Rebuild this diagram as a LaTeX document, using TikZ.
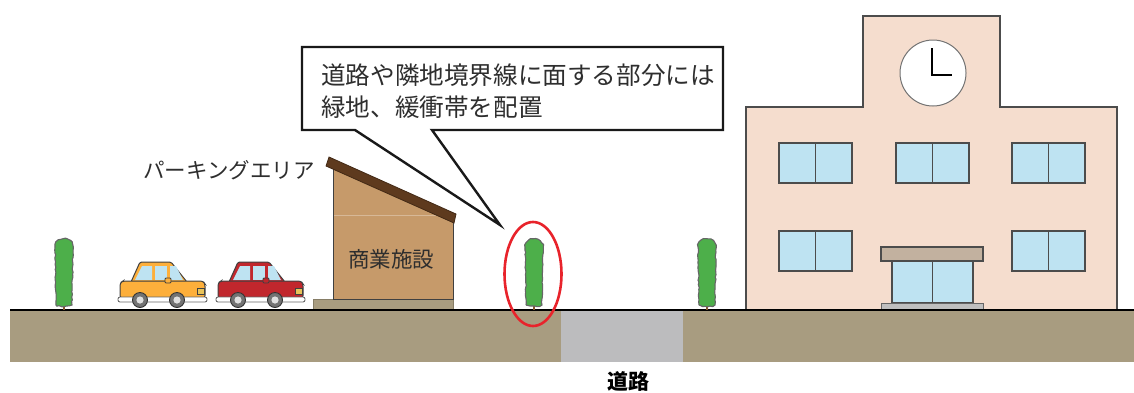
\documentclass[tikz,border=0pt]{standalone}
\usepackage{fontspec}
\newfontfamily\jp{Noto Sans CJK JP}
\usetikzlibrary{decorations.pathmorphing}

\definecolor{soil}{HTML}{A89C80}
\definecolor{roadgray}{HTML}{BCBCBE}
\definecolor{leaf}{HTML}{4DAF4A}
\definecolor{shopwall}{HTML}{C69A6A}
\definecolor{shoproof}{HTML}{5E3A1E}
\definecolor{schoolwall}{HTML}{F5DDCE}
\definecolor{glass}{HTML}{BEE3F2}
\definecolor{canopy}{HTML}{C2B19F}
\definecolor{carorange}{HTML}{FDAF3B}
\definecolor{carred}{HTML}{C1272D}
\definecolor{lamp}{HTML}{E8C35A}
\definecolor{ringred}{HTML}{E8232B}

\tikzset{
  outline/.style={draw=black!70, line width=1.1pt},
  windowpane/.style={fill=glass, draw=black!70, line width=1.1pt},
  label/.style={font=\jp, text=black!82, inner sep=0pt},
  pics/tree/.style={code={
    \draw[brown!70!black, line width=1.2pt] (0,-3) -- (0,3);
    \pgfmathsetseed{#1}
    \draw[fill=leaf, draw=black!60, line width=1.1pt,
          decorate, decoration={random steps, segment length=2.5pt, amplitude=0.6pt}]
      (-8,-2) -- (-9,-60) .. controls (-9,-71) and (9,-71) .. (9,-60) -- (8,-2)
      .. controls (4,0) and (-4,0) .. (-8,-2) -- cycle;
  }},
  pics/car/.style={code={
    % cabin
    \draw[fill=#1, draw=black!75, line width=1pt, rounded corners=1.5pt]
      (16,27) -- (25,7) -- (56,7) -- (72,27) -- cycle;
    \fill[glass] (20,25) -- (27,11) -- (37,11) -- (37,25) -- cycle;
    \fill[glass] (40,11) -- (52,11) -- (52,25) -- (40,25) -- cycle;
    \fill[glass] (55,11) -- (61,11) -- (68,25) -- (55,25) -- cycle;
    % lower body
    \draw[fill=#1, draw=black!75, line width=1pt, rounded corners=2.5pt]
      (5,43) -- (5,28) -- (8,26) -- (88,26) -- (90,29) -- (90,43) -- cycle;
    \draw[fill=#1, draw=black!75, line width=0.8pt, rounded corners=1pt]
      (50,23) rectangle (56,28);
    \draw[fill=lamp, draw=black!75, line width=0.8pt] (82,33) rectangle (89,39);
    % bumper
    \draw[fill=white, draw=black!60, line width=0.9pt, rounded corners=2pt]
      (3,42) rectangle (92,47);
    % wheels
    \foreach \wx in {25,62}{
      \draw[fill=black!55, draw=black!80, line width=0.9pt] (\wx,45) circle (7.5);
      \fill[black!12] (\wx,45) circle (3.6);
    }
  }},
  pics/pane/.style={code={
    \draw[windowpane] (0,0) rectangle (73,40);
    \draw[black!70, line width=1.1pt] (36.5,0) -- (36.5,40);
  }}
}

\begin{document}
\begin{tikzpicture}[x=1pt, y=-1pt]
\useasboundingbox (0,0) rectangle (1134,392);

% ---- school building ----
\draw[fill=schoolwall, draw=black!70, line width=1.1pt]
  (746,310) -- (746,107) -- (863,107) -- (863,16) -- (1000,16)
  -- (1000,107) -- (1117,107) -- (1117,310);
\draw[fill=white, draw=black!55, line width=1pt] (933,73) circle (33);
\draw[black, line width=2.4pt] (932,48) -- (932,75) -- (952,75);
\foreach \wx/\wy in {779/143, 896/143, 1012/143, 779/231, 1012/231}
  \pic at (\wx,\wy) {pane};
\draw[fill=canopy, draw=black!70, line width=1.1pt] (881,247) rectangle (983,261);
\draw[windowpane] (892,261) rectangle (973,303);
\draw[black!70, line width=1.1pt] (932.5,261) -- (932.5,303);
\draw[fill=black!25, draw=black!60, line width=1pt] (881,303) rectangle (983,310);

% ---- shop ----
\draw[fill=soil, draw=soil!80!black, line width=0.8pt] (313,299) rectangle (453,310);
\fill[shopwall] (333,165) -- (453,220) -- (453,299) -- (333,299) -- cycle;
\draw[shopwall!70!white, line width=0.6pt] (333,215) -- (453,215);
\draw[black!75, line width=1pt] (333,165) -- (333,299) -- (453,299) -- (453,220);
\draw[fill=shoproof, draw=shoproof!70!black, line width=0.8pt]
  (329,157) -- (456,214) -- (454,223) -- (326,166) -- cycle;
\node[label, font=\jp\fontsize{21.5}{24}\selectfont] (shop) at (391,259) {商業施設};

% ---- ground and road ----
\fill[soil] (10,310) rectangle (1134,362);
\fill[roadgray] (561,311) rectangle (683,362);
\draw[black, line width=1.2pt] (10,310) -- (1134,310);
\node[label, font=\jp\bfseries\fontsize{21}{24}\selectfont, text=black] (road) at (628,381) {道路};

% ---- trees ----
\pic at (64,307) {tree=11};
\pic at (534,307) {tree=23};
\pic at (707,307) {tree=37};

% ---- cars ----
\pic at (115,255) {car=carorange};
\pic at (213,255) {car=carred};

\node[label, font=\jp\fontsize{21.5}{24}\selectfont, anchor=west] (parking) at (143,170) {パーキングエリア};

% ---- callout ----
\coordinate (tip) at (500,225);
\draw[fill=white, draw=black!90, line width=2.4pt, line join=miter]
  (302,47) -- (723,47) -- (723,130) -- (432,130) -- (tip) -- (355,130) -- (302,130) -- cycle;
\node[label, font=\jp\fontsize{24.6}{32}\selectfont, anchor=base west]
  (note1) at (321,84) {道路や隣地境界線に面する部分には};
\node[label, font=\jp\fontsize{24.6}{32}\selectfont, anchor=base west]
  (note2) at (321,116) {緑地、緩衝帯を配置};

% ---- highlight ring ----
\draw[ringred, line width=2.6pt] (533,274) ellipse (28.5 and 52);
\end{tikzpicture}
\end{document}
